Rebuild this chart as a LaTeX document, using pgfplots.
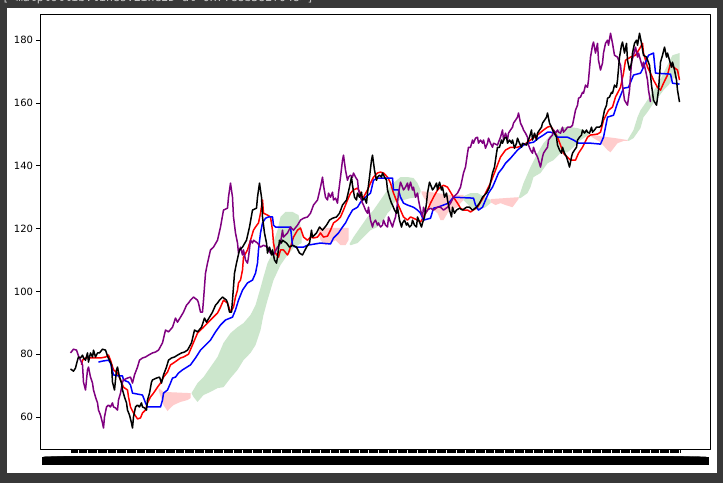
\documentclass[border=0pt]{standalone}
\usepackage{fontspec}
\setmainfont{DejaVu Sans}
\setmonofont{DejaVu Sans Mono}
\usepackage{pgfplots}
\pgfplotsset{compat=1.18}
\usepackage{pgfplotstable}
\definecolor{bgdark}{RGB}{56,56,56}
\definecolor{mplpurple}{RGB}{128,0,128}
\definecolor{cloudgreen}{RGB}{204,230,204}
\definecolor{cloudred}{RGB}{255,204,204}
\definecolor{toptext}{RGB}{200,200,200}

\pgfplotstableread{
t v
0 75.3
3 74.6
5 75.6
7 78.1
8 79.1
10 78.8
12 79.7
13 78.8
15 78.1
17 80.4
18 77.5
20 80.4
22 79.1
23 81.3
25 79.1
27 80.4
29 80.4
32 81.6
35 81.3
37 79.4
39 78.1
41 76.6
42 71.1
44 68.6
46 75.0
47 75.9
49 72.7
51 70.8
52 68.6
54 66.4
56 64.5
57 62.2
59 60.6
61 58.1
62 56.5
63 60.0
65 63.2
67 63.8
69 63.2
71 64.5
72 63.2
74 62.9
76 62.2
77 65.4
79 67.6
81 71.1
82 71.8
86 72.4
89 72.7
91 70.8
93 73.4
96 75.9
98 78.1
101 78.8
104 79.1
107 79.7
111 80.4
114 80.7
117 81.3
121 83.6
124 87.7
127 87.1
131 88.6
134 91.5
136 90.2
139 91.8
142 93.4
145 95.6
147 96.3
149 97.2
152 98.2
156 97.2
157 96.3
159 93.4
161 93.4
162 97.2
164 105.8
166 109.0
169 113.2
172 114.1
176 116.3
179 120.5
182 125.9
186 126.5
187 130.0
189 134.5
191 130.0
192 123.7
194 118.6
196 115.4
197 112.2
199 114.1
201 111.6
202 113.2
204 110.0
206 109.0
207 110.9
209 116.3
211 115.4
212 116.3
216 115.4
219 114.1
222 114.7
226 114.1
229 112.2
232 111.6
236 114.1
239 115.4
241 119.5
242 117.3
246 118.6
249 120.5
252 119.5
256 121.1
259 122.7
262 123.3
266 123.7
269 124.9
272 127.5
276 129.1
279 133.2
281 136.4
282 133.8
284 130.0
286 129.1
287 131.3
289 130.0
291 131.6
292 129.1
294 129.7
296 128.1
297 131.3
299 136.4
301 141.8
302 143.4
304 138.6
306 135.4
307 136.4
309 137.0
311 136.4
312 137.7
314 136.4
316 135.4
317 132.3
319 130.0
321 128.1
322 127.5
324 125.9
326 124.9
327 126.8
329 122.7
331 120.5
332 121.8
334 122.7
336 121.1
337 121.8
339 120.5
341 121.1
342 122.7
344 121.1
346 120.5
347 123.7
349 122.1
351 120.5
352 121.8
354 123.7
356 128.1
357 131.3
359 134.8
361 133.2
362 132.3
364 133.2
366 134.5
367 132.3
369 134.8
371 132.3
372 133.2
374 130.0
376 131.3
377 129.1
379 125.9
381 123.7
382 126.8
384 124.9
386 125.9
389 126.5
392 125.9
396 126.8
399 126.8
402 125.9
406 126.8
409 128.1
412 130.0
416 131.3
419 133.2
422 137.7
424 139.6
426 144.0
427 145.9
429 145.9
431 148.2
432 147.2
434 148.8
436 149.1
437 147.2
439 148.2
441 147.2
442 148.2
444 145.6
446 147.2
447 148.8
449 147.2
451 145.9
452 147.2
456 146.6
457 147.5
459 149.1
461 151.4
462 148.2
464 150.4
466 148.2
467 150.4
469 151.4
471 152.3
472 153.6
474 154.5
476 155.5
477 156.8
479 153.6
481 152.3
482 151.4
484 150.4
486 149.1
487 146.6
489 145.0
491 144.0
492 145.9
494 144.0
496 142.8
497 141.8
499 139.6
501 142.8
502 144.0
504 145.0
506 145.9
507 148.2
509 149.1
511 149.8
512 151.4
514 150.4
516 151.4
517 150.7
519 150.4
521 152.3
522 150.7
524 151.4
526 152.3
529 152.3
531 152.9
532 154.5
534 157.7
536 159.3
537 161.5
539 161.9
541 163.4
542 163.1
544 165.7
546 165.0
547 167.3
549 174.6
551 178.4
552 179.4
554 175.9
556 179.0
557 173.6
559 170.5
561 172.7
562 175.9
564 179.0
566 180.0
567 178.4
569 182.2
571 179.0
573 175.2
576 174.6
579 172.0
581 165.7
583 160.9
586 159.3
588 164.1
590 173.0
592 175.2
594 177.8
596 174.6
597 175.9
599 173.6
601 171.4
602 173.0
604 170.5
606 167.3
607 164.1
609 160.3
}\closetab

\pgfplotstableread{
t v
11 76.6
12 78.1
15 78.8
23 78.8
30 78.8
35 79.1
38 79.7
40 78.1
43 75.0
47 74.0
50 71.8
53 69.5
57 68.6
58 66.4
60 63.2
63 61.3
67 59.4
70 59.7
72 61.3
75 62.2
77 64.5
80 66.4
83 67.6
87 69.5
90 70.8
93 72.7
97 74.3
100 76.6
103 77.2
107 78.1
110 78.8
113 79.1
118 80.0
127 86.7
133 88.6
140 90.9
147 93.1
150 95.0
153 97.2
157 96.3
160 93.4
163 95.0
165 98.2
167 100.4
168 102.7
170 103.6
172 106.8
173 110.9
177 113.2
180 116.3
183 119.5
185 120.5
188 121.8
190 124.9
192 129.1
193 124.9
197 124.3
200 123.7
202 119.5
203 115.4
205 112.2
208 110.9
210 113.2
213 113.2
217 111.6
218 112.2
220 114.1
223 117.3
227 119.5
230 120.2
233 117.3
237 116.3
240 117.3
243 117.0
247 117.3
250 118.6
253 117.3
257 117.6
260 119.5
263 121.8
267 122.7
270 123.7
273 125.9
277 129.1
280 131.3
283 132.3
287 132.9
290 131.3
292 129.7
293 130.0
297 132.3
300 134.5
303 136.4
307 137.7
310 138.0
313 137.7
317 136.4
320 134.5
323 131.3
327 128.1
330 125.9
333 123.7
337 122.7
340 123.7
343 123.3
347 122.7
350 122.1
353 123.7
357 125.9
360 128.1
363 130.0
367 132.3
370 133.2
373 133.8
377 133.2
380 131.6
383 130.0
387 128.1
390 126.5
393 125.9
397 125.9
400 125.3
407 126.8
413 130.0
420 134.5
425 138.6
430 142.8
435 145.0
440 145.9
447 145.9
453 146.6
460 148.2
467 149.8
473 151.4
477 152.3
480 152.6
483 151.4
487 149.1
490 146.6
493 144.0
500 141.8
505 141.8
508 144.0
512 145.9
517 149.1
520 149.8
527 150.1
530 150.7
533 154.5
538 157.7
542 158.7
545 161.9
550 165.0
553 169.5
555 173.6
560 174.6
565 175.2
570 177.8
572 179.0
573 175.9
577 171.4
580 169.5
583 167.3
587 165.0
590 164.1
593 166.3
597 168.9
600 172.7
603 171.4
607 170.5
609 167.3
}\tenkantab

\pgfplotstableread{
t v
28 77.5
32 77.8
38 78.1
40 77.2
43 73.4
48 73.1
52 73.1
53 71.8
58 71.1
60 70.2
62 67.6
67 67.3
72 67.0
75 64.5
77 63.2
90 63.2
92 65.4
93 67.6
97 68.6
100 70.8
102 72.4
105 72.7
108 74.0
112 75.0
115 75.6
120 76.6
125 78.8
130 81.3
135 82.9
140 84.5
145 87.1
150 89.3
155 90.9
162 91.8
165 94.1
168 97.2
172 100.4
177 102.7
182 103.6
185 105.8
187 109.0
188 113.2
190 118.6
192 121.8
195 123.3
198 123.7
202 123.7
203 121.1
205 120.5
220 120.5
222 114.7
225 114.1
233 114.1
237 114.7
250 115.4
260 115.1
263 117.0
268 118.6
272 120.5
275 121.8
278 123.7
282 125.9
287 126.8
290 128.4
295 130.0
300 131.3
303 135.4
307 136.1
322 136.1
323 132.3
328 132.3
330 130.0
333 128.1
337 127.5
343 126.8
347 125.9
350 124.9
353 122.7
360 123.3
363 126.5
367 126.8
373 127.5
378 128.1
383 130.0
403 129.7
405 127.5
408 125.9
412 126.8
415 129.1
418 131.3
422 133.2
425 135.4
428 137.7
432 139.3
435 140.8
440 142.4
447 145.0
453 146.6
458 147.2
463 147.5
468 148.8
473 149.8
477 150.7
480 150.7
483 150.4
487 149.1
497 149.1
503 148.2
508 147.2
520 147.2
530 146.9
533 149.1
537 155.5
543 156.1
547 160.0
553 164.7
558 165.0
563 168.9
570 169.5
573 171.4
578 175.2
583 175.9
585 169.5
600 169.2
602 166.3
609 166.0
}\kijuntab

\begin{document}
\begin{tikzpicture}
\useasboundingbox (0,0) rectangle (723bp,483bp);
\fill[bgdark] (0,0) rectangle (723bp,483bp);
\fill[white] (7bp,10bp) rectangle (717bp,475bp);
\node[anchor=base west, inner sep=0pt, text=toptext, font=\ttfamily\fontsize{11.5bp}{12bp}\selectfont] at (2bp,481bp) {[<matplotlib.lines.Line2D at 0x7fe8b382f048>]};
\begin{axis}[
  at={(40bp,33.5bp)}, anchor=south west,
  width=670.5bp, height=435.5bp, scale only axis,
  xmin=-30.5, xmax=640, ymin=49.65, ymax=188.34,
  ytick={60,80,...,180},
  xtick={0.7,1.815,...,610},
  xticklabel={2019-01-01},
  tick align=outside,
  major tick length=3.5bp,
  every tick/.style={black, line width=0.8bp},
  axis line style={line width=0.8bp},
  xtick pos=bottom, ytick pos=left,
  tick label style={font=\fontsize{10bp}{12bp}\selectfont, text=black},
  xticklabel style={inner sep=0pt, yshift=-3.5bp, fill=black, text depth=0.5bp, text height=7.6bp},
  /pgf/number format/assume math mode=true,
  no markers,
  line join=round,
]
% Kumo (cloud) areas
\addplot[draw=none, fill=cloudred] coordinates {(88,69.2) (93,68.0) (120,67.6) (120,66.0) (117,65.4) (110,64.8) (103,63.8) (100,62.9) (97,61.9) (93,63.8) (88,68.6)};
\addplot[draw=none, fill=cloudgreen] coordinates {(121,67.6) (127,70.8) (133,72.7) (140,75.9) (147,79.1) (153,83.6) (160,86.7) (167,88.6) (173,89.9) (180,92.5) (185,95.6) (190,101.1) (193,104.6) (197,109.0) (200,110.9) (203,115.7) (207,119.5) (210,123.7) (215,125.3) (222,125.3) (228,124.3) (231,118.9) (231,115.4) (223,113.8) (217,111.6) (210,108.4) (203,103.6) (197,97.2) (193,92.5) (190,87.7) (185,82.9) (180,80.4) (173,78.1) (167,75.0) (160,72.4) (153,69.5) (147,69.2) (140,68.0) (133,67.0) (127,64.8) (123,66.4)};
\addplot[draw=none, fill=cloudred] coordinates {(248,120.2) (278,120.2) (278,116.3) (275,114.7) (270,114.7) (265,116.3) (260,115.4) (255,114.7) (250,116.3) (248,118.9)};
\addplot[draw=none, fill=cloudgreen] coordinates {(279,115.1) (283,117.3) (290,120.5) (297,123.7) (303,125.9) (310,129.1) (317,132.3) (323,134.5) (330,136.4) (337,136.4) (343,136.1) (347,134.5) (350,132.3) (350,131.6) (347,130.0) (340,129.7) (333,129.1) (327,129.1) (323,128.1) (320,125.9) (317,124.9) (313,122.7) (307,120.5) (300,119.5) (293,117.3) (287,115.4) (280,114.7)};
\addplot[draw=none, fill=cloudred] coordinates {(351,131.9) (360,131.6) (367,131.3) (380,130.7) (393,130.7) (393,129.1) (390,128.1) (387,126.8) (380,125.9) (377,124.9) (373,122.7) (370,122.7) (367,124.9) (360,126.8) (353,130.0) (351,131.3)};
\addplot[draw=none, fill=cloudgreen] coordinates {(393,130.3) (400,131.3) (407,131.3) (415,130.0) (420,129.1) (420,128.1) (415,126.8) (407,125.9) (400,126.8) (393,129.1)};
\addplot[draw=none, fill=cloudred] coordinates {(420,129.4) (448,130.0) (448,129.4) (442,126.8) (435,127.5) (430,128.1) (425,127.5) (420,128.4)};
\addplot[draw=none, fill=cloudgreen] coordinates {(448,129.7) (453,134.5) (460,139.6) (467,144.0) (473,147.2) (480,149.8) (487,151.4) (493,152.3) (500,152.3) (507,152.0) (513,151.4) (518,150.4) (518,149.8) (513,148.8) (510,148.2) (503,145.9) (497,144.3) (490,144.0) (483,141.8) (477,140.8) (470,137.7) (463,136.4) (460,133.2) (457,131.3) (450,129.7)};
\addplot[draw=none, fill=cloudred] coordinates {(519,150.1) (530,149.4) (545,148.8) (557,148.2) (557,147.9) (553,147.9) (547,147.2) (540,144.3) (537,145.0) (530,147.5) (523,148.8) (519,149.8)};
\addplot[draw=none, fill=cloudgreen] coordinates {(557,148.2) (563,151.4) (567,155.5) (570,157.7) (575,160.0) (580,162.5) (587,165.7) (592,168.9) (598,172.7) (602,175.2) (609,175.9) (609,168.9) (603,167.9) (598,165.7) (593,164.1) (588,161.9) (583,160.0) (577,157.1) (573,155.5) (570,152.0) (563,148.8) (558,147.9)};
% Lines
\addplot[red, line width=1.5bp] table[x=t, y=v] {\tenkantab};
\addplot[blue, line width=1.5bp] table[x=t, y=v] {\kijuntab};
\addplot[mplpurple, line width=1.5bp, restrict x to domain=-0.1:1000] table[x expr=\thisrow{t}-29, y=v] {\closetab};
\addplot[black, line width=1.5bp] table[x=t, y=v] {\closetab};
\end{axis}
\end{tikzpicture}
\end{document}
